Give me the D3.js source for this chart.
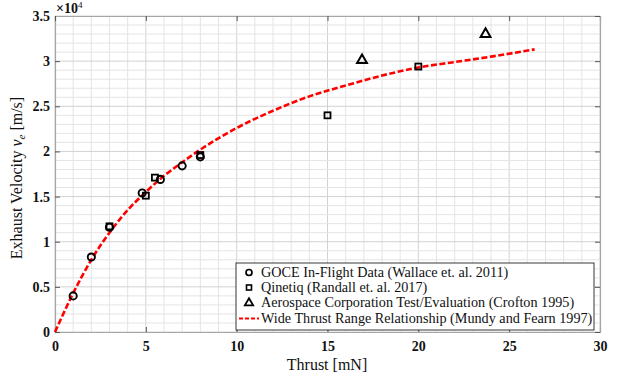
<!DOCTYPE html>
<html lang="en">
<head>
<meta charset="UTF-8">
<title>Exhaust velocity vs thrust</title>
<script src="https://cdn.jsdelivr.net/npm/d3@7"></script>
<style>
  body { margin: 0; background: #fff; }
  svg text { font-family: "Liberation Serif", "DejaVu Serif", serif; fill: #111; }
</style>
</head>
<body>
<svg id="chart" width="619" height="379"></svg>
<script>
// data (thrust in mN, velocity in 1e4 m/s)
var goceThrust = [1, 2, 3, 4.8, 5.8, 7, 8];
var goceVel    = [0.40, 0.83, 1.16, 1.54, 1.69, 1.84, 1.94];

var qinetiqThrust = [3, 5, 5.5, 8, 15, 20];
var qinetiqVel    = [1.17, 1.51, 1.71, 1.96, 2.40, 2.94];

var aeroThrust = [16.9, 23.7];
var aeroVel    = [3.01, 3.30];

var fitThrust = [0, 0.5, 1, 2, 3, 4, 5, 6, 7, 8, 10, 12, 14, 16, 18, 20, 22, 24, 26.4];
var fitVel    = [0, 0.22, 0.43, 0.80, 1.10, 1.35, 1.55, 1.73, 1.88, 2.02, 2.26, 2.45, 2.61, 2.73, 2.84, 2.93, 2.99, 3.05, 3.13];

var xTicks = [0, 5, 10, 15, 20, 25, 30];
var yTicks = [0, 0.5, 1, 1.5, 2, 2.5, 3, 3.5];

var legendLabels = [
  "GOCE In-Flight Data (Wallace et. al. 2011)",
  "Qinetiq (Randall et. al. 2017)",
  "Aerospace Corporation Test/Evaluation (Crofton 1995)",
  "Wide Thrust Range Relationship (Mundy and Fearn 1997)"
];

var plotL = 55, plotR = 600, plotT = 16, plotB = 332;

var svg = d3.select("#chart");

var x = d3.scaleLinear().domain([0, 30]).range([plotL, plotR]);
var y = d3.scaleLinear().domain([0, 3.5]).range([plotB, plotT]);

// grid: minor lines lighter, major (at ticks) a bit darker
var grid = svg.append("g");
grid.selectAll(".v").data(d3.range(0, 31, 1)).enter().append("line")
  .attr("x1", d => x(d)).attr("x2", d => x(d))
  .attr("y1", plotT).attr("y2", plotB)
  .attr("stroke", d => d % 5 === 0 ? "#d2d2d2" : "#e4e4e4").attr("stroke-width", 1);
grid.selectAll(".h").data(d3.range(0, 36, 1)).enter().append("line")
  .attr("y1", d => y(d / 10)).attr("y2", d => y(d / 10))
  .attr("x1", plotL).attr("x2", plotR)
  .attr("stroke", d => d % 5 === 0 ? "#d2d2d2" : "#e4e4e4").attr("stroke-width", 1);

// axes
var xAxis = d3.axisBottom(x).tickValues(xTicks).tickSize(-5).tickPadding(9).tickFormat(d3.format("d"));
var yAxis = d3.axisLeft(y).tickValues(yTicks).tickSize(-5).tickPadding(5).tickFormat(d => String(d));
var xTop = d3.axisTop(x).tickValues(xTicks).tickSize(-5).tickFormat("");
var yRight = d3.axisRight(y).tickValues(yTicks).tickSize(-5).tickFormat("");

function styleAxis(g) {
  g.select(".domain").attr("stroke", "#a6a6a6").attr("stroke-width", 1.2);
  g.selectAll(".tick line").attr("stroke", "#555");
  g.selectAll(".tick text").style("font-size", "14px").style("font-weight", "bold").attr("fill", "#222");
}

svg.append("g").attr("transform", "translate(0," + plotB + ")").call(xAxis).call(styleAxis);
svg.append("g").attr("transform", "translate(" + plotL + ",0)").call(yAxis).call(styleAxis);
svg.append("g").attr("transform", "translate(0," + plotT + ")").call(xTop).call(styleAxis);
svg.append("g").attr("transform", "translate(" + plotR + ",0)").call(yRight).call(styleAxis);

// exponent label
var expo = svg.append("text").attr("x", 56).attr("y", 13).style("font-size", "14px").style("font-weight", "bold");
expo.append("tspan").text("\u00d710");
expo.append("tspan").attr("dy", -5).style("font-size", "9px").style("font-weight", "normal").text("4");

// axis titles
svg.append("text").attr("x", 327).attr("y", 370).attr("text-anchor", "middle")
  .style("font-size", "16px").text("Thrust [mN]");
var yl = svg.append("text").attr("transform", "translate(22,178) rotate(-90)")
  .attr("text-anchor", "middle").style("font-size", "16px");
yl.append("tspan").text("Exhaust Velocity ");
yl.append("tspan").style("font-style", "italic").text("v");
yl.append("tspan").attr("dy", 3).style("font-size", "11px").style("font-style", "italic").text("e");
yl.append("tspan").attr("dy", -3).text(" [m/s]");

// fitted relationship
var line = d3.line().x((d, i) => x(fitThrust[i])).y(d => y(d)).curve(d3.curveMonotoneX);
svg.append("path").datum(fitVel).attr("d", line)
  .attr("fill", "none").attr("stroke", "#ff0000").attr("stroke-width", 2.6)
  .attr("stroke-dasharray", "6,2.5");

// markers
svg.append("g").selectAll("circle").data(goceVel).enter().append("circle")
  .attr("cx", (d, i) => x(goceThrust[i])).attr("cy", d => y(d)).attr("r", 3.6)
  .attr("fill", "none").attr("stroke", "#000").attr("stroke-width", 1.9);

svg.append("g").selectAll("rect").data(qinetiqVel).enter().append("rect")
  .attr("x", (d, i) => x(qinetiqThrust[i]) - 3).attr("y", d => y(d) - 3)
  .attr("width", 6).attr("height", 6)
  .attr("fill", "none").attr("stroke", "#000").attr("stroke-width", 1.8);

var tri = d3.symbol().type(d3.symbolTriangle).size(42);
svg.append("g").selectAll("path").data(aeroVel).enter().append("path")
  .attr("d", tri)
  .attr("transform", (d, i) => "translate(" + x(aeroThrust[i]) + "," + y(d) + ")")
  .attr("fill", "none").attr("stroke", "#000").attr("stroke-width", 2);

// legend
var lg = svg.append("g");
lg.append("rect").attr("x", 236).attr("y", 263).attr("width", 358).attr("height", 67)
  .attr("fill", "#fff").attr("stroke", "#222").attr("stroke-width", 0.9);
var rowY = [272.5, 287.5, 302.5, 318.5];
lg.append("circle").attr("cx", 249).attr("cy", rowY[0]).attr("r", 3)
  .attr("fill", "none").attr("stroke", "#000").attr("stroke-width", 1.7);
lg.append("rect").attr("x", 246.5).attr("y", rowY[1] - 2.5).attr("width", 5).attr("height", 5)
  .attr("fill", "none").attr("stroke", "#000").attr("stroke-width", 1.6);
lg.append("path").attr("d", d3.symbol().type(d3.symbolTriangle).size(30))
  .attr("transform", "translate(249," + (rowY[2] + 0.5) + ")")
  .attr("fill", "none").attr("stroke", "#000").attr("stroke-width", 1.8);
lg.append("line").attr("x1", 239).attr("x2", 259).attr("y1", rowY[3]).attr("y2", rowY[3])
  .attr("stroke", "#ff0000").attr("stroke-width", 2).attr("stroke-dasharray", "4,2");
lg.selectAll(".lt").data(legendLabels).enter().append("text")
  .attr("x", 261).attr("y", (d, i) => rowY[i] + 4.5)
  .style("font-size", "14.2px").text(d => d);
</script>
</body>
</html>
